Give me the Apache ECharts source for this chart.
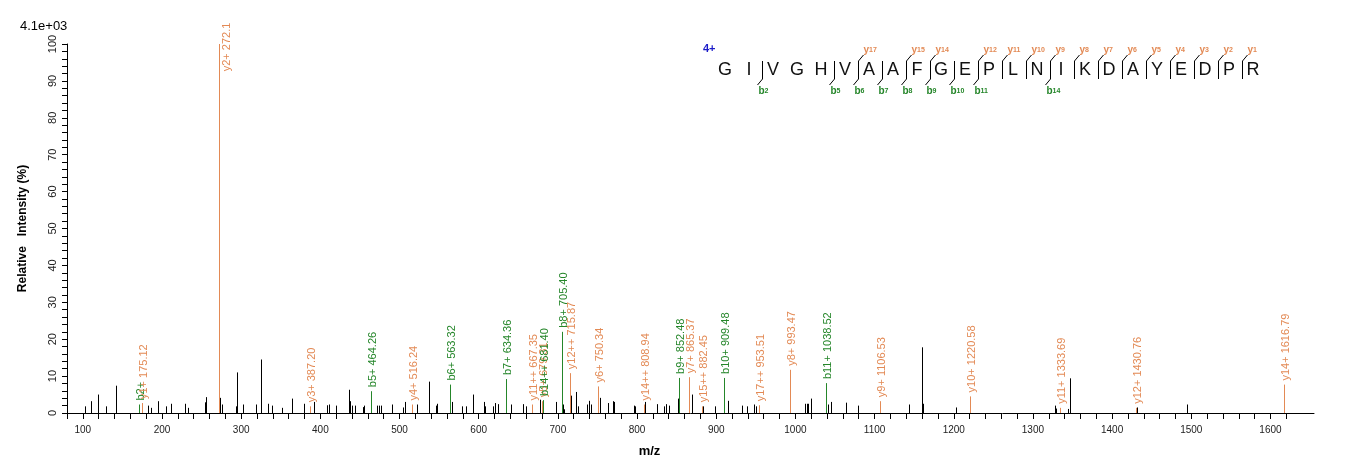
<!DOCTYPE html>
<html>
<head>
<meta charset="utf-8">
<script src="https://cdn.jsdelivr.net/npm/echarts@6/dist/echarts.min.js"></script>
<style>
  html, body { margin: 0; padding: 0; background: #fff; }
  #chart { width: 1362px; height: 473px; }
</style>
</head>
<body>
<div id="chart"></div>
<script>
// unassigned peaks (black sticks)
var blackMz = [102.2, 109.8, 119.4, 128.7, 142.1, 182.6, 186.4, 195.3, 204.7, 211.0,
  228.7, 233.3, 254.0, 255.3, 273.6, 276.3, 293.2, 294.5, 302.8, 319.3,
  324.9, 334.5, 339.5, 351.4, 364.8, 378.8, 392.3, 407.9, 410.4, 419.8,
  435.7, 437.5, 440.0, 444.2, 453.4, 454.7, 471.6, 473.7, 476.7, 490.1,
  504.0, 507.1, 521.8, 536.6, 546.3, 547.6, 566.0, 578.7, 583.4, 592.6,
  606.5, 608.3, 618.0, 621.0, 624.2, 641.2, 655.9, 660.2, 677.0, 697.3,
  705.9, 707.8, 717.1, 723.4, 725.5, 736.9, 739.4, 742.4, 752.9, 762.7,
  769.8, 771.0, 796.3, 797.2, 809.9, 824.7, 834.3, 836.1, 840.7, 852.1,
  869.0, 882.9, 898.5, 914.5, 932.2, 938.6, 948.2, 950.0, 1012.1, 1014.2,
  1015.8, 1019.3, 1020.2, 1041.6, 1045.4, 1064.1, 1078.5, 1143.0, 1160.0, 1161.3,
  1203.4, 1327.4, 1329.0, 1344.2, 1346.8, 1431.5, 1494.0];
var blackInt = [1.8, 3.2, 5.0, 1.8, 7.4, 2.0, 1.4, 3.2, 1.8, 2.5,
  2.5, 1.4, 2.9, 4.3, 4.1, 2.3, 1.8, 11.0, 2.3, 2.3,
  14.5, 2.5, 2.0, 1.4, 3.9, 2.5, 3.0, 2.1, 2.3, 2.0,
  6.3, 3.2, 2.0, 2.0, 1.6, 2.0, 2.0, 2.0, 2.0, 2.3,
  1.5, 3.0, 2.3, 8.5, 2.0, 2.5, 3.0, 1.8, 1.8, 5.0,
  3.0, 1.8, 1.8, 2.7, 2.4, 2.3, 2.4, 1.8, 3.6, 3.0,
  2.3, 1.0, 4.7, 5.7, 1.8, 2.3, 3.3, 2.3, 4.1, 2.7,
  3.2, 3.0, 2.0, 1.8, 3.0, 2.4, 1.8, 2.4, 2.0, 3.9,
  5.0, 1.8, 1.8, 3.3, 2.0, 1.8, 2.3, 1.8, 2.5, 2.5,
  2.5, 1.8, 3.9, 2.3, 3.0, 2.8, 2.0, 2.3, 17.8, 2.5,
  1.5, 2.0, 1.2, 1.1, 9.4, 1.5, 2.3];

// assigned fragment ions
var ionLabels = ['b2+', 'y1+ 175.12', 'y2+ 272.1', 'y3+ 387.20', 'b5+ 464.26', 'y4+ 516.24',
  'b6+ 563.32', 'b7+ 634.36', 'y11++ 667.35', 'y5+ 679.31', 'b14++ 681.40', 'b8+ 705.40',
  'y12++ 715.87', 'y6+ 750.34', 'y14++ 808.94', 'b9+ 852.48', 'y7+ 865.37', 'y15++ 882.45',
  'b10+ 909.48', 'y17++ 953.51', 'y8+ 993.47', 'b11+ 1038.52', 'y9+ 1106.53', 'y10+ 1220.58',
  'y11+ 1333.69', 'y12+ 1430.76', 'y14+ 1616.79'];
var ionMz = [171.11, 175.12, 272.1, 387.20, 464.26, 516.24,
  563.32, 634.36, 667.35, 679.31, 681.40, 705.40,
  715.87, 750.34, 808.94, 852.48, 865.37, 882.45,
  909.48, 953.51, 993.47, 1038.52, 1106.53, 1220.58,
  1333.69, 1430.76, 1616.79];
var ionInt = [2.3, 2.7, 100, 1.8, 5.9, 2.3,
  7.7, 9.2, 2.3, 3.2, 3.5, 22.0,
  10.8, 7.2, 2.3, 9.5, 9.7, 1.8,
  9.5, 2.1, 11.7, 8.1, 3.2, 4.5,
  1.4, 1.4, 7.7];

// peptide sequence and matched cleavages
var sequence = ['G', 'I', 'V', 'G', 'H', 'V', 'A', 'A', 'F', 'G', 'E', 'P', 'L', 'N', 'I', 'K', 'D', 'A', 'Y', 'E', 'D', 'P', 'R'];
var bIons = [2, 5, 6, 7, 8, 9, 10, 11, 14];
var yIons = [17, 15, 14, 12, 11, 10, 9, 8, 7, 6, 5, 4, 3, 2, 1];
var chargeText = '4+';
var scaleText = '4.1e+03';

var xTickLabels = [100, 200, 300, 400, 500, 600, 700, 800, 900, 1000, 1100, 1200, 1300, 1400, 1500, 1600];
var yTickLabels = [0, 10, 20, 30, 40, 50, 60, 70, 80, 90, 100];

var ORANGE = '#E38A55';
var GREEN = '#25862A';
var FONT = 'Liberation Sans, Arial, sans-serif';

var xTicks = [];
for (var t = 80; t <= 1620; t += 20) xTicks.push(t);
var yTicks = [];
for (var u = 0; u <= 100; u += 2) yTicks.push(u);

function stick(x, y0, y1, color) {
  return {
    type: 'line',
    shape: { x1: x, y1: y0, x2: x, y2: y1 },
    style: { stroke: color, lineWidth: 1 }
  };
}

function renderBlack(params, api) {
  var base = api.coord([api.value(0), 0]);
  var top = api.coord([api.value(0), api.value(1)]);
  var x = Math.round(base[0]) + 0.5;
  return stick(x, base[1], top[1], '#000');
}

function renderIon(params, api) {
  var i = params.dataIndex;
  var label = ionLabels[i];
  var color = label.charAt(0) === 'b' ? GREEN : ORANGE;
  var base = api.coord([api.value(0), 0]);
  var top = api.coord([api.value(0), api.value(1)]);
  var x = Math.round(base[0]) + 0.5;
  var txt;
  if (api.value(1) > 90) {
    // no room above the tallest peak, put it beside
    txt = {
      type: 'text', x: x + 7, y: top[1] + 3, rotation: Math.PI / 2,
      style: { text: label, fill: color, font: '11px ' + FONT, align: 'center', verticalAlign: 'middle' }
    };
  } else {
    txt = {
      type: 'text', x: x + 1, y: top[1] - 4, rotation: Math.PI / 2,
      style: { text: label, fill: color, font: '11px ' + FONT, align: 'left', verticalAlign: 'middle' }
    };
  }
  return { type: 'group', children: [stick(x, base[1], top[1], color), txt] };
}

// sequence coverage drawing (top right)
var seqX0 = 725, seqStep = 24, seqY = 70;
var graphics = [
  { type: 'text', left: 20, top: 20, style: { text: scaleText, fill: '#000', font: '13px ' + FONT } },
  { type: 'text', x: 703, y: 49, style: { text: chargeText, fill: '#1a1ac8', font: 'bold 11px ' + FONT, verticalAlign: 'middle' } }
];
sequence.forEach(function (aa, k) {
  graphics.push({
    type: 'text', x: seqX0 + seqStep * k, y: seqY,
    style: { text: aa, fill: '#111', font: '18px ' + FONT, align: 'center', verticalAlign: 'middle' }
  });
});
function cutX(k) { return seqX0 + seqStep * (k - 1) + seqStep / 2 + 0.5; }
var cuts = {};
bIons.forEach(function (n) { cuts[n] = true; });
yIons.forEach(function (n) { cuts[sequence.length - n] = true; });
Object.keys(cuts).forEach(function (k) {
  var x = Math.round(cutX(+k)) + 0.5;
  graphics.push({ type: 'line', shape: { x1: x, y1: 61, x2: x, y2: 79 }, style: { stroke: '#000', lineWidth: 1 } });
});
bIons.forEach(function (n) {
  var x = Math.round(cutX(n)) + 0.5;
  graphics.push({ type: 'line', shape: { x1: x, y1: 79, x2: x - 5, y2: 85 }, style: { stroke: '#000', lineWidth: 1 } });
  graphics.push({
    type: 'text', x: x - 4, y: 91,
    style: {
      text: '{a|b}{n|' + n + '}', verticalAlign: 'middle', align: 'left',
      rich: {
        a: { fill: GREEN, font: 'bold 10px ' + FONT },
        n: { fill: GREEN, font: 'bold 7px ' + FONT }
      }
    }
  });
});
yIons.forEach(function (n) {
  var x = Math.round(cutX(sequence.length - n)) + 0.5;
  graphics.push({ type: 'line', shape: { x1: x, y1: 61, x2: x + 5, y2: 55 }, style: { stroke: '#000', lineWidth: 1 } });
  graphics.push({
    type: 'text', x: x + 5, y: 50,
    style: {
      text: '{a|y}{n|' + n + '}', verticalAlign: 'middle', align: 'left',
      rich: {
        a: { fill: ORANGE, font: 'bold 10px ' + FONT },
        n: { fill: ORANGE, font: 'bold 7px ' + FONT }
      }
    }
  });
});

var blackData = blackMz.map(function (m, i) { return [m, blackInt[i]]; });
var ionData = ionMz.map(function (m, i) { return [m, ionInt[i]]; });

var chart = echarts.init(document.getElementById('chart'), null, { renderer: 'canvas' });
chart.setOption({
  backgroundColor: '#ffffff',
  animation: false,
  textStyle: { fontFamily: FONT },
  grid: { left: 67, right: 48, top: 44, bottom: 60, containLabel: false, outerBoundsMode: 'none' },
  xAxis: {
    type: 'value', min: 80, max: 1655, interval: 20,
    name: 'm/z', nameLocation: 'middle', nameGap: 32,
    nameTextStyle: { color: '#000', fontWeight: 'bold', fontSize: 13, padding: [0, 82, 0, 0] },
    axisLine: { onZero: false, lineStyle: { color: '#000', width: 1 } },
    axisTick: { length: 6, lineStyle: { color: '#000' }, customValues: xTicks },
    axisLabel: {
      customValues: xTickLabels, color: '#222', fontSize: 10, margin: 12,
      formatter: function (v) { return String(v); }
    },
    splitLine: { show: false }
  },
  yAxis: {
    type: 'value', min: 0, max: 100, interval: 10,
    name: 'Relative   Intensity (%)', nameLocation: 'middle', nameGap: 38, nameRotate: 90,
    nameTextStyle: { color: '#000', fontWeight: 'bold', fontSize: 12 },
    axisLine: { show: true, lineStyle: { color: '#000', width: 1 } },
    axisTick: { show: true, length: 5, lineStyle: { color: '#000' }, customValues: yTicks },
    axisLabel: {
      customValues: yTickLabels, rotate: 90, color: '#222', fontSize: 11, margin: 9,
      formatter: function (v) { return String(v); }
    },
    splitLine: { show: false }
  },
  graphic: graphics,
  series: [
    { type: 'custom', name: 'peaks', renderItem: renderBlack, data: blackData, silent: true },
    { type: 'custom', name: 'ions', renderItem: renderIon, data: ionData, silent: true, clip: false }
  ]
});
</script>
</body>
</html>
